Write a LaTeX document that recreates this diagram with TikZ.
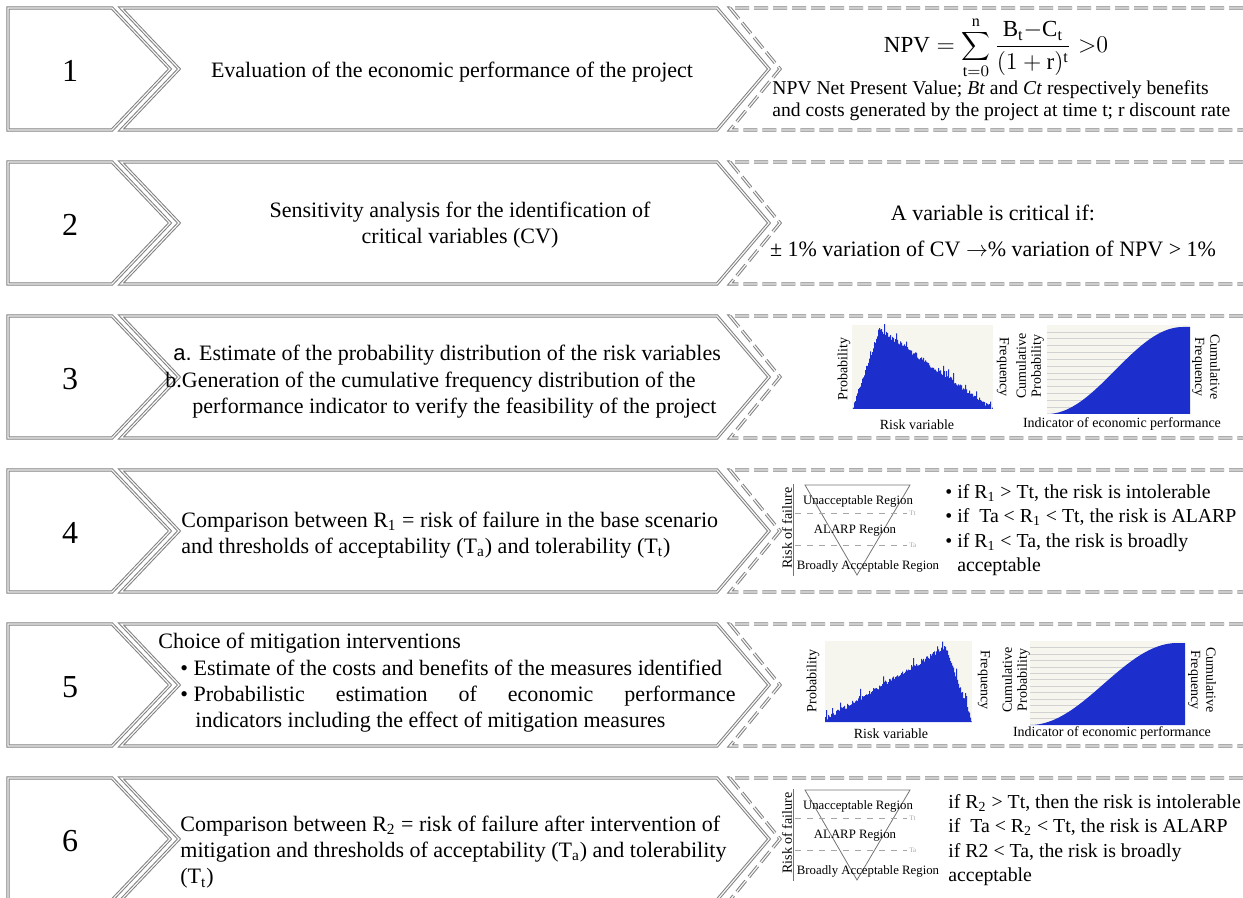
\documentclass[tikz,border=0pt]{standalone}
\usepackage{fontspec}
\setmainfont{Liberation Serif}
\setsansfont{Liberation Sans}
\usetikzlibrary{positioning}

\definecolor{histblue}{RGB}{28,46,204}
\definecolor{histback}{RGB}{246,246,238}

\tikzset{
  boxline/.style={draw=black!50, line width=0.5pt, double=gray!6, double distance=0.6pt},
  dashline/.style={boxline, dash pattern=on 7pt off 2.5pt},
  numtext/.style={font=\fontsize{16}{18}\selectfont},
  steptext/.style={font=\fontsize{11}{13.2}\selectfont, align=left, inner sep=0pt},
  ruletext/.style={font=\fontsize{9.9}{12.2}\selectfont, align=left, inner sep=0pt, anchor=west},
  chartlabel/.style={font=\fontsize{7}{7.6}\selectfont, align=center, inner sep=0pt},
  regionlabel/.style={font=\fontsize{6.4}{7}\selectfont, inner sep=0pt},
  thlabel/.style={font=\fontsize{3.5}{4}\selectfont, inner sep=1pt},
}

% cumulative chart: #1,#2 bottom left corner, #3 width, #4 height
\def\cumchart#1#2#3#4{%
  \begin{scope}[shift={(#1,#2)}]
    \fill[histback] (0,0) rectangle (#3,-#4);
    \foreach \k in {1,...,12}
      \draw[gray!35, line width=0.3pt] (0,-\k*#4/13) -- (#3,-\k*#4/13);
    \fill[histblue] (0,0) -- plot[domain=0:#3, samples=60]
      (\x,{-(#4-2)*(1-cos(180*min(1,\x/(0.95*#3))))/2}) -- (#3,0) -- cycle;
  \end{scope}}

% ALARP triangle: #1 vertical shift, #2 name prefix
\def\alarp#1#2{%
  \begin{scope}[shift={(0,#1)}]
    \draw[black!55, line width=0.4pt] (793,484) -- (793,576);
    \node[chartlabel, rotate=90] (#2axis) at (787,528) {Risk of failure};
    \draw[black!55, line width=0.4pt] (805,485) -- (910,485) -- (857,575) -- cycle;
    \draw[gray!70, dashed, line width=0.3pt] (795,513) -- (907,513)
      node[thlabel, right] (#2tt) {Tt};
    \draw[gray!70, dashed, line width=0.3pt] (795,545) -- (907,545)
      node[thlabel, right] (#2ta) {Ta};
    \node[regionlabel] (#2un) at (858,501) {Unacceptable Region};
    \node[regionlabel] (#2al) at (855,531) {ALARP Region};
    \node[regionlabel] (#2ba) at (868,566) {Broadly Acceptable Region};
  \end{scope}}

\begin{document}
\begin{tikzpicture}[x=0.5pt, y=-0.5pt]
\useasboundingbox (0,0) rectangle (1243,898);

% the six rows of chevrons
\foreach \i in {1,...,6} {
  \pgfmathsetmacro\t{8+154*(\i-1)}
  \pgfmathsetmacro\m{\t+61}
  \pgfmathsetmacro\b{\t+122}
  \draw[boxline] (8,\t) -- (112,\t) -- (170,\m) -- (112,\b) -- (8,\b) -- cycle;
  \draw[boxline] (121,\t) -- (717,\t) -- (769,\m) -- (717,\b) -- (121,\b) -- (179,\m) -- cycle;
  \draw[dashline] (1262,\t) -- (730,\t) -- (780,\m) -- (730,\b) -- (1262,\b);
  \node[numtext] (num\i) at (70,\m+2) {\i};
}

% row 1
\node[steptext] (step1) at (452,72) {Evaluation of the economic performance of the project};
\node[font=\fontsize{11.5}{14}\selectfont, inner sep=0pt] (npv) at (996,48)
  {$\mathrm{NPV}=\displaystyle\sum_{\mathrm{t}=0}^{\mathrm{n}}\frac{\mathrm{B_t}{-}\mathrm{C_t}}{(1+\mathrm{r})^{\mathrm{t}}}\;{>}0$};
\node[steptext, anchor=west, font=\fontsize{9.8}{11}\selectfont] (def1) at (772,101)
  {NPV Net Present Value; \textit{Bt} and \textit{Ct} respectively benefits\\
   and costs generated by the project at time t; r discount rate};

% row 2
\node[steptext, align=center] (step2) at (460,225)
  {Sensitivity analysis for the identification of\\critical variables (CV)};
\node[steptext, align=center] (crit2) at (993,231)
  {A variable is critical if:\\[4.5pt]
   ± 1\% variation of CV $\rightarrow$\% variation of NPV > 1\%};

% row 3
\node[steptext, anchor=west] (step3) at (165,382)
  {\hspace*{4pt}{\sffamily a.} Estimate of the probability distribution of the risk variables\\
   b.Generation of the cumulative frequency distribution of the\\
   \hspace*{13.5pt}performance indicator to verify the feasibility of the project};
\pgfmathsetseed{11}
\begin{scope}[shift={(852,409)}]
  \fill[histback] (0,0) rectangle (141,-84);
  \clip (0,0) rectangle (141,-84);
  \fill[histblue] (0,0) -- plot[const plot, domain=0:140, samples=141]
    (\x,{-max(0,((\x<27) ? (80*\x/27) : (80*(141-\x)/114)) + 5*rnd - 2.5 + 6*(rnd>0.9))})
    -- (141,0) -- cycle;
\end{scope}
\node[chartlabel, rotate=90] (prob3) at (844,369) {Probability};
\node[chartlabel, rotate=-90] (freq3) at (1003,367) {Frequency};
\node[chartlabel] (risk3) at (917,425) {Risk variable};
\cumchart{1047}{414}{143}{89}
\node[chartlabel, rotate=90] (cprob3) at (1030,366) {Cumulative\\Probability};
\node[chartlabel, rotate=-90] (cfreq3) at (1206,367) {Cumulative\\Frequency};
\node[chartlabel] (ind3) at (1122,424) {Indicator of economic performance};

% row 4
\node[steptext, anchor=west] (step4) at (181,535)
  {Comparison between R\textsubscript{1} = risk of failure in the base scenario\\
   and thresholds of acceptability (T\textsubscript{a}) and tolerability (T\textsubscript{t})};
\alarp{0}{r4}
\node[ruletext] (rule4) at (945,530)
  {\textbullet\ if R\textsubscript{1} > Tt, the risk is intolerable\\
   \textbullet\ if \ Ta < R\textsubscript{1} < Tt, the risk is ALARP\\
   \textbullet\ if R\textsubscript{1} < Ta, the risk is broadly\\
   \phantom{\textbullet\ }acceptable};

% row 5
\node[steptext, anchor=west] (step5) at (158,683)
  {Choice of mitigation interventions\\
   \hspace*{11pt}\textbullet\ Estimate of the costs and benefits of the measures identified\\
   \hspace*{11pt}\textbullet\ \makebox[271pt][s]{Probabilistic estimation of economic performance}\\
   \hspace*{18.5pt}indicators including the effect of mitigation measures};
\begin{scope}[shift={(825,722)}]
  \fill[histback] (0,0) rectangle (147,-81);
  \clip (0,0) rectangle (147,-81);
  \fill[histblue] (0,0) -- plot[const plot, domain=0:146, samples=147]
    (\x,{-max(0,((\x<120) ? (3+72*\x/120) : (75*(147-\x)/27)) + 5*rnd - 2.5 + 7*(rnd>0.9))})
    -- (147,0) -- cycle;
\end{scope}
\node[chartlabel, rotate=90] (prob5) at (813,681) {Probability};
\node[chartlabel, rotate=-90] (freq5) at (984,680) {Frequency};
\node[chartlabel] (risk5) at (891,734) {Risk variable};
\cumchart{1030}{725}{155}{84}
\node[chartlabel, rotate=90] (cprob5) at (1016,680) {Cumulative\\Probability};
\node[chartlabel, rotate=-90] (cfreq5) at (1202,680) {Cumulative\\Frequency};
\node[chartlabel] (ind5) at (1112,733) {Indicator of economic performance};

% row 6
\node[steptext, anchor=west] (step6) at (180,852)
  {Comparison between R\textsubscript{2} = risk of failure after intervention of\\
   mitigation and thresholds of acceptability (T\textsubscript{a}) and tolerability\\
   (T\textsubscript{t})};
\alarp{305}{r6}
\node[ruletext] (rule6) at (948,840)
  {if R\textsubscript{2} > Tt, then the risk is intolerable\\
   if \ Ta < R\textsubscript{2} < Tt, the risk is ALARP\\
   if R2 < Ta, the risk is broadly\\
   acceptable};

\end{tikzpicture}
\end{document}
